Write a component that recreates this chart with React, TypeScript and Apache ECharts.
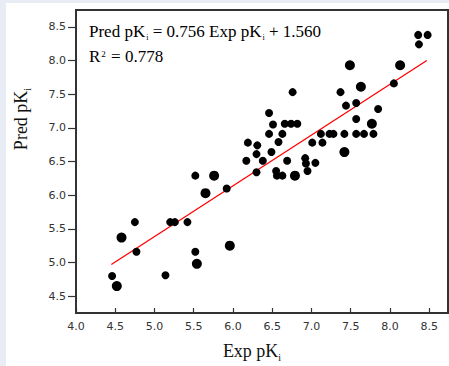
import React, { useEffect, useRef } from "react";
import * as echarts from "echarts";

const xTicks = [4.0, 4.5, 5.0, 5.5, 6.0, 6.5, 7.0, 7.5, 8.0, 8.5];
const yTicks = [4.5, 5.0, 5.5, 6.0, 6.5, 7.0, 7.5, 8.0, 8.5];

// [Exp pKi, Pred pKi] - regular markers
const smallPoints: number[][] = [
  [4.46, 4.8], [4.75, 5.6], [4.77, 5.16], [5.14, 4.81], [5.2, 5.6], [5.26, 5.6],
  [5.42, 5.6], [5.52, 6.29], [5.52, 5.16], [5.92, 6.1], [6.17, 6.51], [6.19, 6.78],
  [6.31, 6.74], [6.3, 6.61], [6.3, 6.34], [6.38, 6.51], [6.46, 7.22], [6.46, 6.91],
  [6.51, 7.05], [6.49, 6.64], [6.58, 6.79], [6.63, 6.91], [6.55, 6.36], [6.56, 6.29],
  [6.63, 6.29], [6.69, 6.51], [6.66, 7.06], [6.74, 7.06], [6.82, 7.06], [6.76, 7.53],
  [6.92, 6.55], [6.93, 6.47], [6.95, 6.36], [7.01, 6.78], [7.05, 6.48], [7.12, 6.91],
  [7.14, 6.78], [7.23, 6.91], [7.28, 6.91], [7.37, 7.53], [7.44, 7.33], [7.42, 6.91],
  [7.57, 7.37], [7.57, 7.13], [7.57, 6.91], [7.67, 6.91], [7.79, 6.91], [7.85, 7.28],
  [8.05, 7.66], [8.36, 8.38], [8.37, 8.24], [8.48, 8.38],
];
// [Exp pKi, Pred pKi] - larger (overlapping) markers
const bigPoints: number[][] = [
  [4.52, 4.65], [4.58, 5.37], [5.54, 4.98], [5.65, 6.03], [5.76, 6.29], [5.96, 5.25],
  [6.79, 6.29], [7.42, 6.64], [7.49, 7.93], [7.63, 7.61], [7.77, 7.06], [8.13, 7.93],
];
// fitted line endpoints
const fitX = [4.45, 8.47];
const fitY = [4.97, 8.0];

const serif = "'Liberation Serif', 'Times New Roman', serif";

export default function App() {
  const ref = useRef<HTMLDivElement>(null);
  useEffect(() => {
    const chart = echarts.init(ref.current!, null, { renderer: "svg" });
    chart.setOption({
      animation: false,
      backgroundColor: "transparent",
      grid: {
        left: 76,
        right: 1,
        top: 10,
        bottom: 53,
        show: true,
        borderColor: "#333",
        borderWidth: 2,
        backgroundColor: "transparent",
      },
      xAxis: {
        type: "value",
        min: 4.0,
        max: 8.74,
        interval: 0.5,
        axisLine: { show: true, onZero: false, lineStyle: { color: "#333", width: 2 } },
        axisTick: { show: true, inside: true, length: 5, customValues: xTicks, lineStyle: { color: "#333", width: 1.2 } },
        axisLabel: {
          customValues: xTicks,
          formatter: (v: number) => v.toFixed(1),
          color: "#333",
          fontSize: 11,
          fontFamily: "'DejaVu Sans', sans-serif",
          margin: 8,
        },
        splitLine: { show: false },
      },
      yAxis: {
        type: "value",
        min: 4.25,
        max: 8.75,
        axisLine: { show: true, onZero: false, lineStyle: { color: "#333", width: 2 } },
        axisTick: { show: true, inside: false, length: 8, customValues: yTicks, lineStyle: { color: "#333", width: 1.2 } },
        axisLabel: {
          customValues: yTicks,
          formatter: (v: number) => v.toFixed(1),
          color: "#333",
          fontSize: 11,
          fontFamily: "'DejaVu Sans', sans-serif",
          margin: 10,
        },
        splitLine: { show: false },
      },
      series: [
        {
          type: "line",
          data: fitX.map((x, i) => [x, fitY[i]]),
          symbol: "none",
          lineStyle: { color: "#ff0000", width: 1.3 },
          z: 3,
        },
        {
          type: "scatter",
          data: smallPoints,
          symbol: "circle",
          symbolSize: 8,
          itemStyle: { color: "#000", opacity: 1 },
          z: 4,
        },
        {
          type: "scatter",
          data: bigPoints,
          symbol: "circle",
          symbolSize: 10,
          itemStyle: { color: "#000", opacity: 1 },
          z: 4,
        },
      ],
      graphic: [
        {
          type: "text",
          x: 89,
          y: 19,
          z: 10,
          style: {
            text: "{a|Pred pK}{s|i}{a| = 0.756 Exp pK}{s|i}{a| + 1.560}\n{a|R}{p|2}{a| = 0.778}",
            fill: "#000",
            rich: {
              a: { fontSize: 17, fontFamily: serif, lineHeight: 25, verticalAlign: "middle", fill: "#000" },
              s: { fontSize: 8, fontFamily: serif, lineHeight: 8, padding: [0, 0, 3, 1], verticalAlign: "bottom", fill: "#000" },
              p: { fontSize: 9, fontFamily: serif, lineHeight: 9, padding: [5, 1, 0, 1], verticalAlign: "top", fill: "#000" },
            },
          },
        },
        {
          type: "text",
          x: 252,
          y: 351,
          z: 10,
          style: {
            text: "{a|Exp pK}{s|i}",
            align: "center",
            verticalAlign: "middle",
            rich: {
              a: { fontSize: 18, fontFamily: serif, lineHeight: 22, verticalAlign: "middle", fill: "#111" },
              s: { fontSize: 10, fontFamily: serif, lineHeight: 10, verticalAlign: "bottom", fill: "#111" },
            },
          },
        },
        {
          type: "text",
          x: 21,
          y: 119,
          z: 10,
          rotation: Math.PI / 2,
          style: {
            text: "{a|Pred pK}{s|i}",
            align: "center",
            verticalAlign: "middle",
            rich: {
              a: { fontSize: 18, fontFamily: serif, lineHeight: 22, verticalAlign: "middle", fill: "#111" },
              s: { fontSize: 10, fontFamily: serif, lineHeight: 10, verticalAlign: "bottom", fill: "#111" },
            },
          },
        },
      ],
    });
    return () => chart.dispose();
  }, []);
  return (
    <div style={{ position: "fixed", left: 0, top: 0, width: 449, height: 366, background: "#e8ecf5", overflow: "hidden" }}>
      <div style={{ position: "absolute", left: 6, top: 3, right: 0, bottom: 0, background: "#ffffff" }} />
      <div ref={ref} style={{ position: "absolute", left: 0, top: 0, width: 449, height: 366 }} />
    </div>
  );
}
